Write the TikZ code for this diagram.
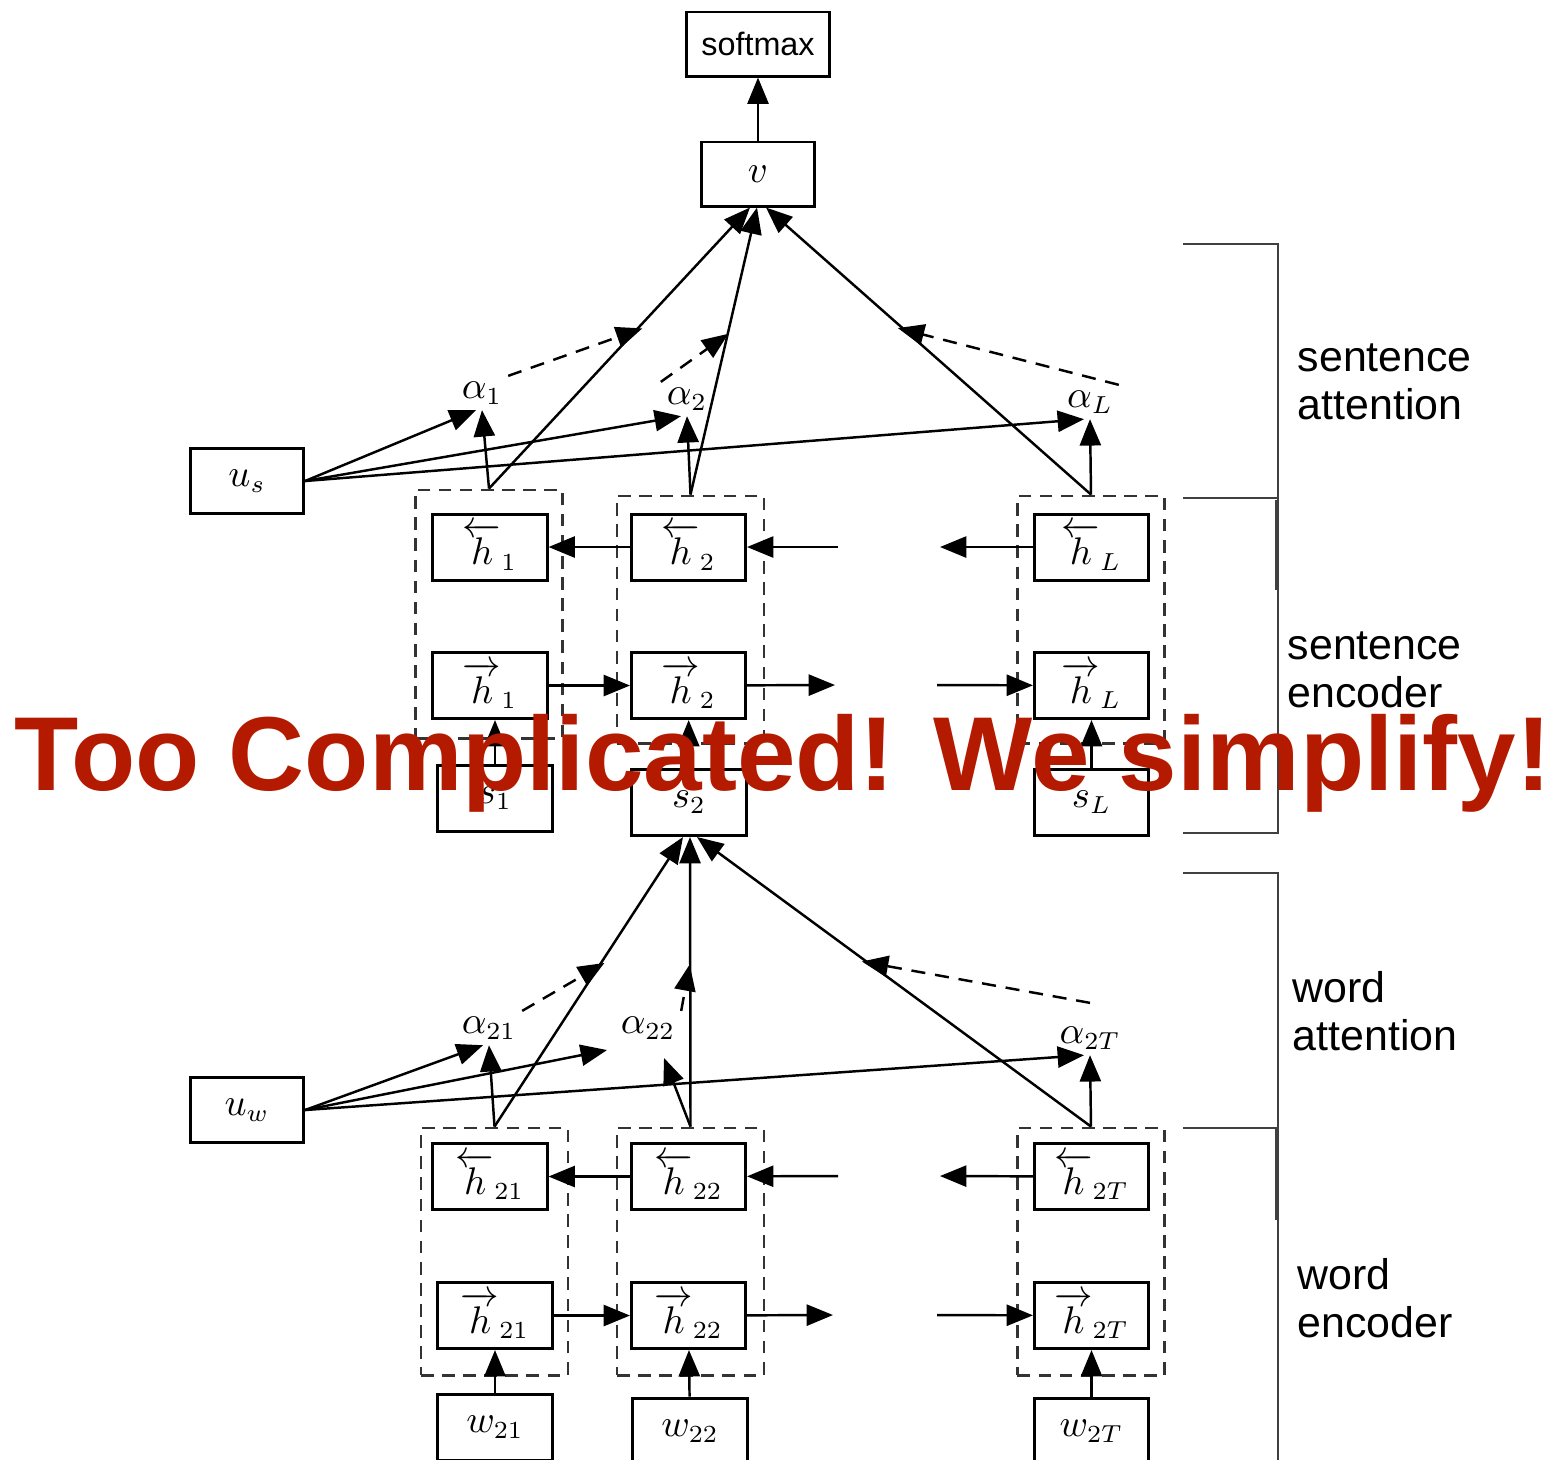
\documentclass[tikz,border=0pt]{standalone}
\usepackage[no-math]{fontspec}
\setmainfont{Liberation Sans}
\usepackage{amsmath}
\usetikzlibrary{arrows.meta, positioning, calc}
\definecolor{alertred}{HTML}{B41A00}

\begin{document}
\begin{tikzpicture}[x=0.01cm, y=-0.01cm,
  cell/.style={draw, line width=0.85pt, minimum width=1.14cm, minimum height=0.66cm, inner sep=0pt, font=\fontsize{10.5}{12}\selectfont},
  grp/.style={draw=black!80, line width=0.8pt, dash pattern=on 3.6pt off 2.4pt, minimum width=1.47cm, minimum height=2.47cm, inner sep=0pt},
  arr/.style={-{Triangle[length=7.5pt,width=6pt]}, line width=0.7pt},
  att/.style={arr, dash pattern=on 4pt off 2.8pt},
  lbl/.style={inner sep=1.5pt, font=\fontsize{10.5}{12}\selectfont},
  tag/.style={anchor=west, align=left, inner sep=0pt, font=\fontsize{12.2}{13.7}\selectfont},
  brk/.style={draw=black!75, line width=0.7pt}]
  \useasboundingbox (0,0) rectangle (1555,1459);

  \node[cell, minimum width=1.42cm, minimum height=0.64cm, font=\fontsize{9.2}{11}\selectfont] (softmax) at (758,44) {softmax};
  \node[cell, minimum width=1.13cm, minimum height=0.64cm] (v) at (758,174) {$v$};
  \node[cell, minimum width=1.13cm, minimum height=0.65cm] (us) at (247,481) {$u_s$};

  \node[grp, minimum height=2.48cm] (gs1) at (489,614) {};
  \node[grp] (gs2) at (690.5,619.5) {};
  \node[grp] (gsL) at (1091,619.5) {};
  \node[cell] (hb1) at (490,547) {$\overleftarrow{h}_1$};
  \node[cell] (hf1) at (490,685.5) {$\overrightarrow{h}_1$};
  \node[cell] (hb2) at (688.5,547) {$\overleftarrow{h}_2$};
  \node[cell] (hf2) at (688.5,685.5) {$\overrightarrow{h}_2$};
  \node[cell] (hbL) at (1091.5,547) {$\overleftarrow{h}_L$};
  \node[cell] (hfL) at (1091.5,685.5) {$\overrightarrow{h}_L$};
  \node[cell] (s1) at (495,798.5) {$s_1$};
  \node[cell] (s2) at (689,802.5) {$s_2$};
  \node[cell] (sL) at (1091.5,802.5) {$s_L$};
  \node[lbl] (a1) at (482,393) {$\alpha_1$};
  \node[lbl] (a2) at (687,399) {$\alpha_2$};
  \node[lbl] (aL) at (1090,402) {$\alpha_L$};
  \coordinate (gb1) at (838,547);
  \coordinate (gb2) at (940,547);
  \coordinate (gf1) at (835,685);
  \coordinate (gf2) at (937,685);

  \draw[arr] (v) -- (softmax);
  \draw[arr] (gs1.north) -- ($(v.south)+(-8,0)$);
  \draw[arr] (gs2.north) -- ($(v.south)+(-1,0)$);
  \draw[arr] (gsL.north) -- ($(v.south)+(8,0)$);
  \draw[arr] (gs1.north) -- (a1.south);
  \draw[arr] (gs2.north) -- (a2.south);
  \draw[arr] (gsL.north) -- (aL.south);
  \draw[arr] (us.east) -- ($(a1.south)+(-6,0)$);
  \draw[arr] (us.east) -- ($(a2.south)+(-6,0)$);
  \draw[arr] (us.east) -- ($(aL.south)+(-6,0)$);
  \draw[att] (a1.north east) -- ($(gs1.north)!0.57!(v.south)$);
  \draw[att] (a2.north west) -- ($(gs2.north)!0.56!(v.south)$);
  \draw[att] (aL.north east) -- ($(gsL.north)!0.58!(v.south)$);
  \draw[arr] (hb2) -- (hb1);
  \draw[arr] (gb1) -- (hb2);
  \draw[arr] (hbL) -- (gb2);
  \draw[arr] (hf1) -- (hf2);
  \draw[arr] (hf2) -- (gf1);
  \draw[arr] (gf2) -- (hfL);
  \draw[arr] (s1.north) -- (s1.north |- hf1.south);
  \draw[arr] (s2) -- (hf2);
  \draw[arr] (sL) -- (hfL);

  \node[cell, minimum width=1.13cm, minimum height=0.65cm] (uw) at (247,1110) {$u_w$};
  \node[grp] (gw1) at (494.5,1251.5) {};
  \node[grp] (gw2) at (690.5,1251.5) {};
  \node[grp] (gwT) at (1091,1251.5) {};
  \node[cell] (hb21) at (490,1176.5) {$\overleftarrow{h}_{21}$};
  \node[cell] (hf21) at (495,1315.5) {$\overrightarrow{h}_{21}$};
  \node[cell] (hb22) at (688.5,1176.5) {$\overleftarrow{h}_{22}$};
  \node[cell] (hf22) at (688.5,1315.5) {$\overrightarrow{h}_{22}$};
  \node[cell] (hb2T) at (1091.5,1176.5) {$\overleftarrow{h}_{2T}$};
  \node[cell] (hf2T) at (1091.5,1315.5) {$\overrightarrow{h}_{2T}$};
  \node[cell] (w21) at (495,1427) {$w_{21}$};
  \node[cell] (w22) at (690,1431) {$w_{22}$};
  \node[cell] (w2T) at (1091.5,1431) {$w_{2T}$};
  \node[lbl] (a21) at (489,1028) {$\alpha_{21}$};
  \node[lbl] (a22) at (648,1028) {$\alpha_{22}$};
  \node[lbl] (a2T) at (1090,1038) {$\alpha_{2T}$};
  \coordinate (a22tip) at (664,1058);
  \coordinate (uwtip) at (607,1050);
  \coordinate (gb21) at (838,1176);
  \coordinate (gb22) at (940,1176);
  \coordinate (gf21) at (833,1315);
  \coordinate (gf22) at (937,1315);

  \draw[arr] (gw1.north) -- ($(s2.south)+(-6,0)$);
  \draw[arr] (gw2.north) -- ($(s2.south)+(1,0)$);
  \draw[arr] (gwT.north) -- ($(s2.south)+(8,0)$);
  \draw[arr] (gw1.north) -- (a21.south);
  \draw[arr] (gw2.north) -- (a22tip);
  \draw[arr] (gwT.north) -- (a2T.south);
  \draw[arr] (uw.east) -- ($(a21.south)+(-6,0)$);
  \draw[arr] (uw.east) -- (uwtip);
  \draw[arr] (uw.east) -- ($(a2T.south)+(-6,0)$);
  \draw[att] (a21.north east) -- ($(gw1.north)!0.565!(s2.south)$);
  \draw[att] (a22.north east) -- ($(gw2.north)!0.56!(s2.south)$);
  \draw[att] ($(a2T.north)+(0,-18)$) -- ($(gwT.north)!0.57!(s2.south)$);
  \draw[arr] (hb22) -- (hb21);
  \draw[arr] (gb21) -- (hb22);
  \draw[arr] (hb2T) -- (gb22);
  \draw[arr] (hf21) -- (hf22);
  \draw[arr] (hf22) -- (gf21);
  \draw[arr] (gf22) -- (hf2T);
  \draw[arr] (w21) -- (hf21);
  \draw[arr] (w22) -- (hf22);
  \draw[arr] (w2T) -- (hf2T);

  \draw[brk] (1183,244) -- (1278,244) -- (1278,833) -- (1183,833);
  \draw[brk] (1183,498) -- (1278,498);
  \draw[brk, line width=1.3pt] (1277,500) -- (1277,590);
  \draw[brk] (1183,873) -- (1278,873) -- (1278,1470);
  \draw[brk] (1183,1128) -- (1278,1128);
  \draw[brk, line width=1.3pt] (1277,1128) -- (1277,1220);
  \node[tag] (senatt) at (1297,382) {sentence\\attention};
  \node[tag] (senenc) at (1287,669.5) {sentence\\encoder};
  \node[tag] (wordatt) at (1292,1011) {word\\attention};
  \node[tag] (wordenc) at (1297,1298) {word\\encoder};

  \node[anchor=base, inner sep=0pt, text=alertred, font=\fontsize{29.9}{32}\selectfont\bfseries] (banner) at (783,790) {Too Complicated! We simplify!};
\end{tikzpicture}
\end{document}
